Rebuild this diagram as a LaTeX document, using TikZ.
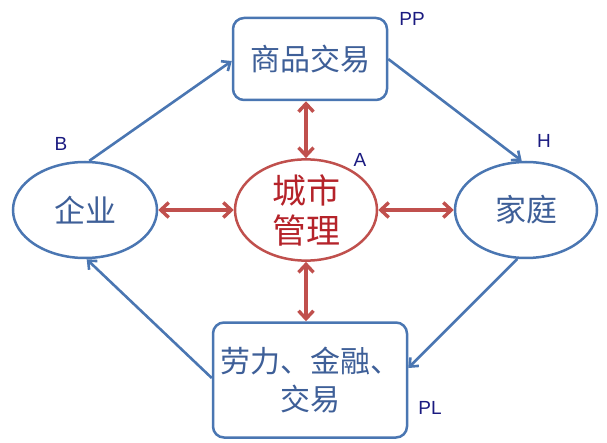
\documentclass[tikz,border=0pt]{standalone}
\usepackage{fontspec}
\setmainfont{Liberation Sans}
\newfontfamily\cjk{Noto Sans CJK SC}
\usetikzlibrary{shapes.geometric,arrows.meta}
\definecolor{lineblue}{HTML}{4A76B2}
\definecolor{textblue}{HTML}{3E5F98}
\definecolor{linered}{HTML}{C0504D}
\definecolor{textred}{HTML}{B5232A}
\definecolor{labelnavy}{HTML}{1A1A80}
\begin{document}
\begin{tikzpicture}[x=1pt,y=-1pt,
  boxnode/.style={draw=lineblue,line width=2.5pt,rounded corners=11pt,fill=white,inner sep=0pt,text=textblue,font=\cjk\fontsize{30}{38}\selectfont,align=center},
  ellnode/.style={draw=lineblue,line width=2.5pt,ellipse,fill=white,inner sep=0pt,text=textblue,font=\cjk\fontsize{31}{36}\selectfont},
  centernode/.style={draw=linered,line width=2.5pt,ellipse,fill=white,inner sep=0pt,text=textred,font=\cjk\fontsize{34}{40}\selectfont,align=center},
  bluearrow/.style={draw=lineblue,line width=2.6pt,-{Straight Barb[length=7pt,width=12pt,line width=2.6pt]}},
  redarrow/.style={draw=linered,line width=3.6pt,{Straight Barb[length=8pt,width=15pt,line width=3.4pt]}-{Straight Barb[length=8pt,width=15pt,line width=3.4pt]}},
  lbl/.style={text=labelnavy,font=\fontsize{19}{22}\selectfont}
]
\useasboundingbox (0,0) rectangle (607,443);
\node[boxnode,minimum width=154pt,minimum height=82pt] (top) at (310,59) {商品交易};
\node[boxnode,minimum width=194pt,minimum height=115pt] (bot) at (310,380) {劳力、金融、\\交易};
\node[ellnode,minimum width=144pt,minimum height=96pt] (ent) at (85,210) {企业};
\node[ellnode,minimum width=142pt,minimum height=96pt] (home) at (526,210) {家庭};
\node[centernode,minimum width=142pt,minimum height=96pt] (city) at (306,210) {城市\\管理};
\node[lbl] (lPP) at (412,19) {PP};
\node[lbl] (lB) at (61,144) {B};
\node[lbl] (lA) at (360,160) {A};
\node[lbl] (lH) at (544,141) {H};
\node[lbl] (lPL) at (430,408) {PL};
\draw[bluearrow] (ent.85) -- (top.west|-0,61);
\draw[bluearrow] (top.east|-0,59) -- (home.95);
\draw[bluearrow] (home.-100) -- (bot.east|-0,368);
\draw[bluearrow] (bot.west|-0,378) -- (ent.-88);
\draw[redarrow] (city.north) -- (city.north|-top.south);
\draw[redarrow] (city.south) -- (city.south|-bot.north);
\draw[redarrow] (city.west) -- (ent.east);
\draw[redarrow] (city.east) -- (home.west);
\end{tikzpicture}
\end{document}
